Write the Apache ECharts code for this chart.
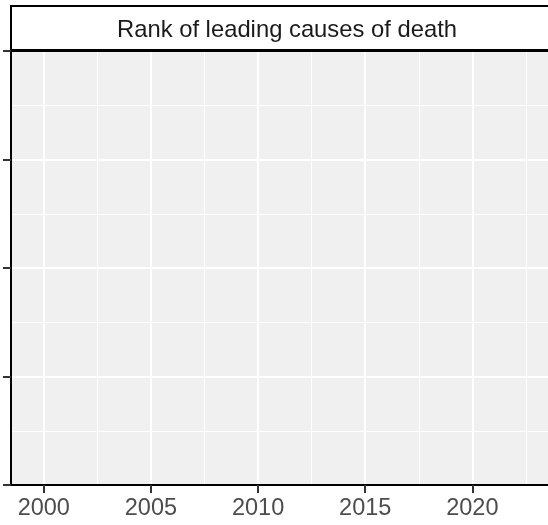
<!DOCTYPE html>
<html>
<head>
<meta charset="utf-8">
<script src="https://cdn.jsdelivr.net/npm/echarts@6/dist/echarts.min.js"></script>
<style>
  html, body { margin: 0; padding: 0; background: #fff; }
  #main { width: 548px; height: 525px; }
</style>
</head>
<body>
<div id="main"></div>
<script>
// 数据（图中没有任何线条，只剩空面板）
var yearTicks = [2000, 2005, 2010, 2015, 2020];
var yearMinor = [2002.5, 2007.5, 2012.5, 2017.5, 2022.5];
var yearRange = [1998.47, 2023.53];
var rankRange = [0, 20];
var rankStep = 5;
var causes = []; // 没有数据系列

var chart = echarts.init(document.getElementById('main'));

var option = {
  animation: false,
  backgroundColor: '#ffffff',
  title: {
    text: 'Rank of leading causes of death',
    left: 282,
    top: 13,
    textAlign: 'center',
    textStyle: {
      fontFamily: 'Liberation Sans',
      fontSize: 23.8,
      fontWeight: 'normal',
      color: '#1a1a1a'
    }
  },
  // 标题条（ggplot strip）
  graphic: [{
    type: 'rect',
    z: -1,
    shape: { x: 11, y: 6, width: 560, height: 44 },
    style: { fill: '#ffffff', stroke: '#000000', lineWidth: 2 }
  }],
  grid: {
    left: 11,
    top: 51,
    right: -2,
    bottom: 40,
    show: true,
    backgroundColor: '#f0f0f0',
    borderWidth: 0
  },
  xAxis: [
    {
      type: 'value',
      position: 'bottom',
      min: yearRange[0],
      max: yearRange[1],
      axisLine: { show: true, onZero: false, lineStyle: { color: '#000', width: 2 } },
      axisTick: { show: true, length: 8, customValues: yearTicks, lineStyle: { color: '#333', width: 2 } },
      axisLabel: {
        customValues: yearTicks,
        formatter: function (v) { return String(v); },
        margin: 12,
        color: '#4d4d4d',
        fontFamily: 'Liberation Sans',
        fontSize: 23.5
      },
      splitLine: { show: true, lineStyle: { color: '#ffffff', width: 2 } }
    },
    {
      type: 'value',
      position: 'top',
      min: yearRange[0],
      max: yearRange[1],
      axisLine: { show: true, onZero: false, lineStyle: { color: '#000', width: 2 } },
      axisTick: { show: false, customValues: yearMinor },
      axisLabel: { show: false },
      splitLine: { show: true, lineStyle: { color: '#ffffff', width: 1 } }
    }
  ],
  yAxis: {
    type: 'value',
    inverse: true,
    min: rankRange[0],
    max: rankRange[1],
    interval: rankStep,
    axisLine: { show: true, onZero: false, lineStyle: { color: '#000', width: 2 } },
    axisTick: { show: true, length: 8, lineStyle: { color: '#333', width: 2 } },
    axisLabel: { show: false },
    splitLine: { show: true, showMinLine: false, showMaxLine: false, lineStyle: { color: '#ffffff', width: 2 } },
    minorTick: { show: false, splitNumber: 2 },
    minorSplitLine: { show: true, lineStyle: { color: '#ffffff', width: 1 } }
  },
  series: causes
};

chart.setOption(option);
</script>
</body>
</html>
